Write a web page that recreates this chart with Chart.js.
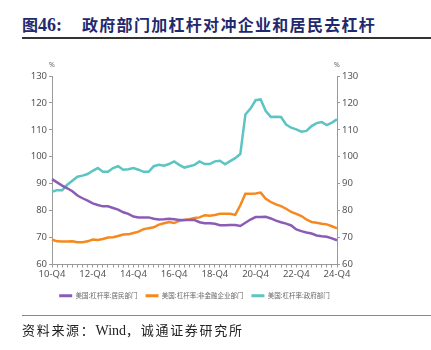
<!DOCTYPE html>
<html>
<head>
<meta charset="utf-8">
<script src="https://cdn.jsdelivr.net/npm/chart.js@4.4.0/dist/chart.umd.min.js"></script>
<style>
  body { margin: 0; width: 431px; height: 350px; background: #fff; position: relative; overflow: hidden; }
  #title { position: absolute; left: 22px; top: 12px; white-space: nowrap; color: #1f2a6e; font-weight: 700; }
  #title .num { font-family: "Noto Sans CJK SC", serif; font-size: 16px; }
  #title .num b { font-family: "Liberation Serif", serif; font-size: 18px; }
  #title .txt { position: absolute; left: 60px; top: 0; font-family: "Noto Sans CJK SC", sans-serif; font-size: 16px; letter-spacing: 1.3px; }
  #rule1 { position: absolute; left: 22px; top: 37px; width: 409px; height: 1.5px; background: #333; }
  #rule2 { position: absolute; left: 22px; top: 315px; width: 409px; height: 1px; background: #888; }
  #source { position: absolute; left: 22px; top: 320px; font-family: "Noto Sans CJK SC", serif; font-size: 13px; letter-spacing: 1.7px; color: #222; white-space: nowrap; }
  #source .en { font-family: "Liberation Serif", serif; font-size: 14px; letter-spacing: 0; }
  #wrap { position: absolute; left: 0; top: 0; width: 389px; height: 350px; }
</style>
</head>
<body>
<div id="title"><span class="num">图<b>46:</b></span><span class="txt">政府部门加杠杆对冲企业和居民去杠杆</span></div>
<div id="rule1"></div>
<div id="wrap"><canvas id="levChart"></canvas></div>
<div id="rule2"></div>
<div id="source">资料来源：<span class="en">Wind</span>，诚通证券研究所</div>
<script>
// quarterly categories, 2010-Q4 .. 2024-Q4
const quarters = [
  "10-Q4",
  "11-Q1", "11-Q2", "11-Q3", "11-Q4",
  "12-Q1", "12-Q2", "12-Q3", "12-Q4",
  "13-Q1", "13-Q2", "13-Q3", "13-Q4",
  "14-Q1", "14-Q2", "14-Q3", "14-Q4",
  "15-Q1", "15-Q2", "15-Q3", "15-Q4",
  "16-Q1", "16-Q2", "16-Q3", "16-Q4",
  "17-Q1", "17-Q2", "17-Q3", "17-Q4",
  "18-Q1", "18-Q2", "18-Q3", "18-Q4",
  "19-Q1", "19-Q2", "19-Q3", "19-Q4",
  "20-Q1", "20-Q2", "20-Q3", "20-Q4",
  "21-Q1", "21-Q2", "21-Q3", "21-Q4",
  "22-Q1", "22-Q2", "22-Q3", "22-Q4",
  "23-Q1", "23-Q2", "23-Q3", "23-Q4",
  "24-Q1", "24-Q2", "24-Q3", "24-Q4"
];
const shownTicks = ["10-Q4", "12-Q4", "14-Q4", "16-Q4", "18-Q4", "20-Q4", "22-Q4", "24-Q4"];

// 美国:杠杆率:居民部门 (%)
const householdLev = [
  91.7,
  90.5, 89.3, 88.3, 87.2,
  85.6, 84.6, 83.7, 82.7,
  82.1, 81.6, 81.6, 81.0,
  80.4, 79.4, 78.8, 77.8,
  77.5, 77.5, 77.5, 77.0,
  76.7, 76.8, 77.0, 76.8,
  76.5, 76.5, 76.5, 76.5,
  75.7, 75.3, 75.3, 75.1,
  74.6, 74.6, 74.7, 74.7,
  74.3, 75.5, 76.7, 77.6,
  77.6, 77.7, 77.1, 76.3,
  75.7, 75.2, 74.5, 73.0,
  72.4, 71.9, 71.5, 70.8,
  70.5, 70.3, 69.7, 69.0
];
// 美国:杠杆率:非金融企业部门 (%)
const corporateLev = [
  69.3,
  68.6, 68.5, 68.5, 68.6,
  68.3, 68.3, 68.6, 69.3,
  69.1, 69.5, 70.0, 70.1,
  70.6, 71.1, 71.2, 71.7,
  72.2, 73.1, 73.5, 73.8,
  74.8, 75.3, 75.8, 75.4,
  76.2, 76.5, 76.8, 77.3,
  77.5, 78.3, 78.1, 78.4,
  78.8, 78.8, 78.8, 78.4,
  82.0, 86.3, 86.3, 86.4,
  86.7, 84.4, 83.2, 82.3,
  81.7, 80.7, 79.5, 78.8,
  78.0, 76.7, 75.8, 75.5,
  75.1, 74.9, 74.2, 73.4
];
// 美国:杠杆率:政府部门 (%)
const governmentLev = [
  87.0,
  87.6, 87.6, 89.6, 91.1,
  92.6, 93.0, 93.6, 94.8,
  95.8, 94.4, 94.4, 95.8,
  96.5, 95.2, 95.4, 95.8,
  95.2, 94.4, 94.4, 96.5,
  97.0, 96.7, 97.3, 98.3,
  97.0, 96.0, 96.5, 97.0,
  98.3, 97.3, 97.3, 98.3,
  98.5, 97.2, 98.4, 99.5,
  101.0, 115.7, 117.9, 121.0,
  121.3, 117.0, 114.8, 114.9,
  114.8, 112.0, 110.8, 110.2,
  109.3, 109.6, 111.4, 112.5,
  112.9, 111.8, 112.7, 113.9
];

const axisGray = "#9a9a9a";
const tickFont = { family: "'Noto Sans', sans-serif", size: 9.5 };

// draws the "%" unit above both y axes
const unitLabels = {
  id: "unitLabels",
  afterDraw(chart) {
    const { ctx, chartArea } = chart;
    ctx.save();
    ctx.fillStyle = "#666";
    ctx.font = "7px 'Noto Sans', sans-serif";
    ctx.textAlign = "center";
    ctx.textBaseline = "bottom";
    ctx.fillText("%", chartArea.left, chartArea.top - 8);
    ctx.fillText("%", chartArea.right, chartArea.top - 8);
    ctx.restore();
  }
};

const yAxis = (pos) => ({
  position: pos,
  min: 60,
  max: 130,
  ticks: { stepSize: 10, color: "#555", font: tickFont, padding: 2 },
  border: { color: axisGray, width: 1 },
  grid: { drawOnChartArea: false, drawTicks: true, tickLength: 3, color: axisGray },
  afterFit: scale => { scale.width = 52; }
});

new Chart(document.getElementById("levChart"), {
  type: "line",
  data: {
    labels: quarters,
    datasets: [
      { label: "美国:杠杆率:居民部门", data: householdLev, borderColor: "#8a5cb6", backgroundColor: "#8a5cb6" },
      { label: "美国:杠杆率:非金融企业部门", data: corporateLev, borderColor: "#f5891f", backgroundColor: "#f5891f" },
      { label: "美国:杠杆率:政府部门", data: governmentLev, borderColor: "#5cc4c2", backgroundColor: "#5cc4c2" }
    ]
  },
  options: {
    responsive: true,
    maintainAspectRatio: false,
    animation: false,
    devicePixelRatio: 1,
    layout: { padding: { top: 76, bottom: 41, left: 0, right: 0 } },
    elements: {
      line: { borderWidth: 2.5, tension: 0 },
      point: { radius: 0, hoverRadius: 0 }
    },
    plugins: {
      legend: {
        position: "bottom",
        labels: {
          color: "#666",
          font: { family: "'Noto Sans CJK SC', sans-serif", size: 6.5 },
          boxWidth: 13,
          boxHeight: 3,
          padding: 8,
          generateLabels: chart => Chart.defaults.plugins.legend.labels.generateLabels(chart)
            .map(item => ({ ...item, lineWidth: 0 }))
        }
      },
      tooltip: { enabled: false }
    },
    scales: {
      x: {
        offset: false,
        border: { color: axisGray, width: 1 },
        grid: { drawOnChartArea: false, drawTicks: true, tickLength: 3, color: axisGray },
        ticks: {
          autoSkip: false,
          maxRotation: 0,
          color: "#555",
          font: tickFont,
          padding: 1,
          callback: function (value) {
            const lbl = this.getLabelForValue(value);
            return shownTicks.includes(lbl) ? lbl : "";
          }
        },
        afterFit: scale => { scale.height = 20; }
      },
      y: yAxis("left"),
      y1: yAxis("right")
    }
  },
  plugins: [unitLabels]
});
</script>
</body>
</html>
